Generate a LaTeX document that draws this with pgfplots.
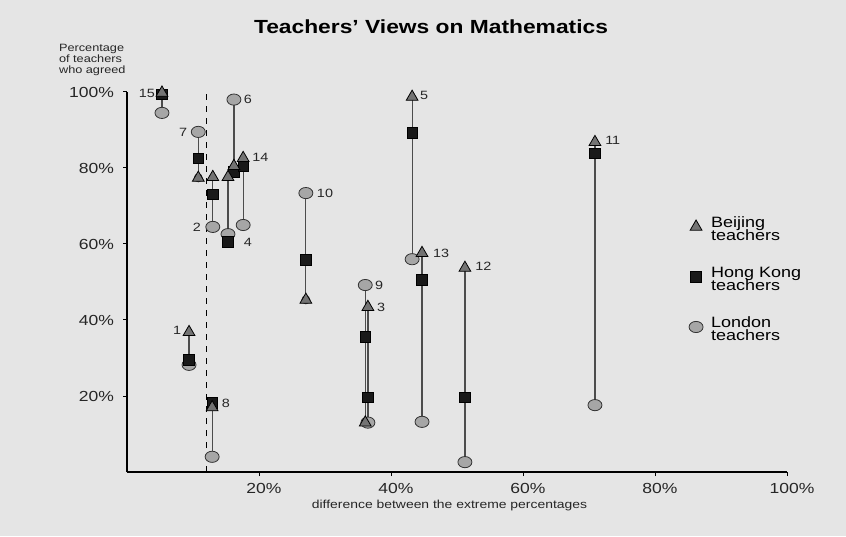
\documentclass[border=0pt]{standalone}
\usepackage{pgfplots}
\usepackage{pgfplotstable}
\pgfplotsset{compat=1.18}
\usepackage{fontspec}
\setmainfont{Liberation Sans}[FakeStretch=1.2]

\pgfplotstableread{
id x B H L
15 5.3 99.8 99.3 94.5
1 9.4 36.8 29.5 28.2
7 10.8 77.4 82.6 89.5
8 12.9 17.0 18.2 4.0
2 13.0 77.6 73.0 64.5
4 15.3 77.6 60.5 62.6
6 16.2 80.5 79.0 98.0
14 17.6 82.6 80.5 65.0
10 27.1 45.3 55.8 73.4
9 36.1 13.0 35.5 49.2
3 36.5 43.4 19.7 13.0
5 43.2 98.7 89.2 56.0
13 44.7 57.6 50.5 13.2
12 51.2 53.7 19.7 2.6
11 70.9 86.8 83.9 17.6
}\data

\begin{document}
\begin{tikzpicture}
\fill[black!10] (0,0) rectangle (423pt,268pt);
\begin{axis}[
  at={(63.5pt,32pt)}, anchor=south west,
  scale only axis, width=330pt, height=190pt,
  xmin=0, xmax=100, ymin=0, ymax=100,
  axis lines*=left, axis line style={-, black, line width=0.6pt},
  clip=false,
  xtick={20,40,60,80,100}, ytick={20,40,60,80,100},
  xticklabel={\pgfmathprintnumber[assume math mode=true]{\tick}\%},
  yticklabel={\pgfmathprintnumber[assume math mode=true]{\tick}\%},
  tick label style={font=\fontsize{7.3}{8}\selectfont, black!85},
  xticklabel style={xshift=2.5pt},
  yticklabel style={xshift=-1pt},
  tick align=outside, major tick length=2pt,
  tick style={black, line width=0.5pt},
  legend style={at={(axis cs:85.1,68.2)}, anchor=north west, draw=none, fill=none,
    inner sep=0pt, row sep=11.5pt, font=\fontsize{7.5}{7.8}\selectfont,
    nodes={align=left, inner sep=1.5pt},
    /tikz/every odd column/.append style={column sep=2.5pt}},
  legend cell align=left,
]
% connecting vertical lines
\addplot[only marks, mark=none, black!80, forget plot,
  error bars/.cd, y dir=plus, y explicit, error mark=none,
  error bar style={black!70, line width=0.6pt}]
  table[x=x, y expr={min(\thisrow{B},\thisrow{H},\thisrow{L})},
        y error plus expr={max(\thisrow{B},\thisrow{H},\thisrow{L})-min(\thisrow{B},\thisrow{H},\thisrow{L})}]{\data};
% dashed reference line
\addplot[dashed, black, line width=0.5pt, forget plot] coordinates {(12,0) (12,100.5)};
% London (drawn first)
\addplot[only marks, mark=*, mark size=2.8pt, forget plot,
  mark options={xscale=1.25, fill=black!35, draw=black!80, line width=0.4pt}]
  table[x=x, y=L]{\data};
\addplot[only marks, mark=square*, mark size=2.6pt, forget plot,
  mark options={fill=black!90, draw=black, line width=0.4pt}]
  table[x=x, y=H]{\data};
\addplot[only marks, mark=triangle*, mark size=3.4pt, forget plot,
  mark options={fill=black!55, draw=black, line width=0.4pt}]
  table[x=x, y=B]{\data};
% legend entries
\addplot[only marks, mark=triangle*, mark size=3.4pt,
  mark options={fill=black!55, draw=black, line width=0.4pt}] coordinates {(-50,-50)};
\addlegendentry{\begin{tabular}{@{}l@{}}Beijing\\[-1pt]teachers\end{tabular}}
\addplot[only marks, mark=square*, mark size=2.6pt,
  mark options={fill=black!90, draw=black, line width=0.4pt}] coordinates {(-50,-50)};
\addlegendentry{\begin{tabular}{@{}l@{}}Hong Kong\\[-1pt]teachers\end{tabular}}
\addplot[only marks, mark=*, mark size=2.8pt,
  mark options={xscale=1.25, fill=black!35, draw=black!80, line width=0.4pt}] coordinates {(-50,-50)};
\addlegendentry{\begin{tabular}{@{}l@{}}London\\[-1pt]teachers\end{tabular}}
% point labels
\begin{scope}[every node/.style={font=\fontsize{6}{6.5}\selectfont, black!85, inner sep=0pt}]
\node at (axis cs:3.0,99.5) {15};
\node at (axis cs:7.6,37.4) {1};
\node at (axis cs:8.5,89.5) {7};
\node at (axis cs:15.0,18.0) {8};
\node at (axis cs:10.6,64.5) {2};
\node at (axis cs:18.3,60.5) {4};
\node at (axis cs:18.3,98.0) {6};
\node at (axis cs:20.2,82.9) {14};
\node at (axis cs:30.0,73.4) {10};
\node at (axis cs:38.2,49.2) {9};
\node at (axis cs:38.5,43.4) {3};
\node at (axis cs:45.0,99.0) {5};
\node at (axis cs:47.6,57.6) {13};
\node at (axis cs:54.0,54.0) {12};
\node at (axis cs:73.6,87.4) {11};
\end{scope}
\end{axis}
\node[font=\bfseries\fontsize{9.5}{10}\selectfont] at (215.5pt,254.5pt) {Teachers' Views on Mathematics};
\node[anchor=west, align=left, font=\fontsize{5.3}{5.5}\selectfont, black!85] at (26pt,238pt) {Percentage\\of teachers\\who agreed};
\node[font=\fontsize{5.8}{6}\selectfont, black!85] at (224.75pt,15.5pt) {difference between the extreme percentages};
\pgfresetboundingbox
\path[use as bounding box] (0,0) rectangle (423pt,268pt);
\end{tikzpicture}
\end{document}
